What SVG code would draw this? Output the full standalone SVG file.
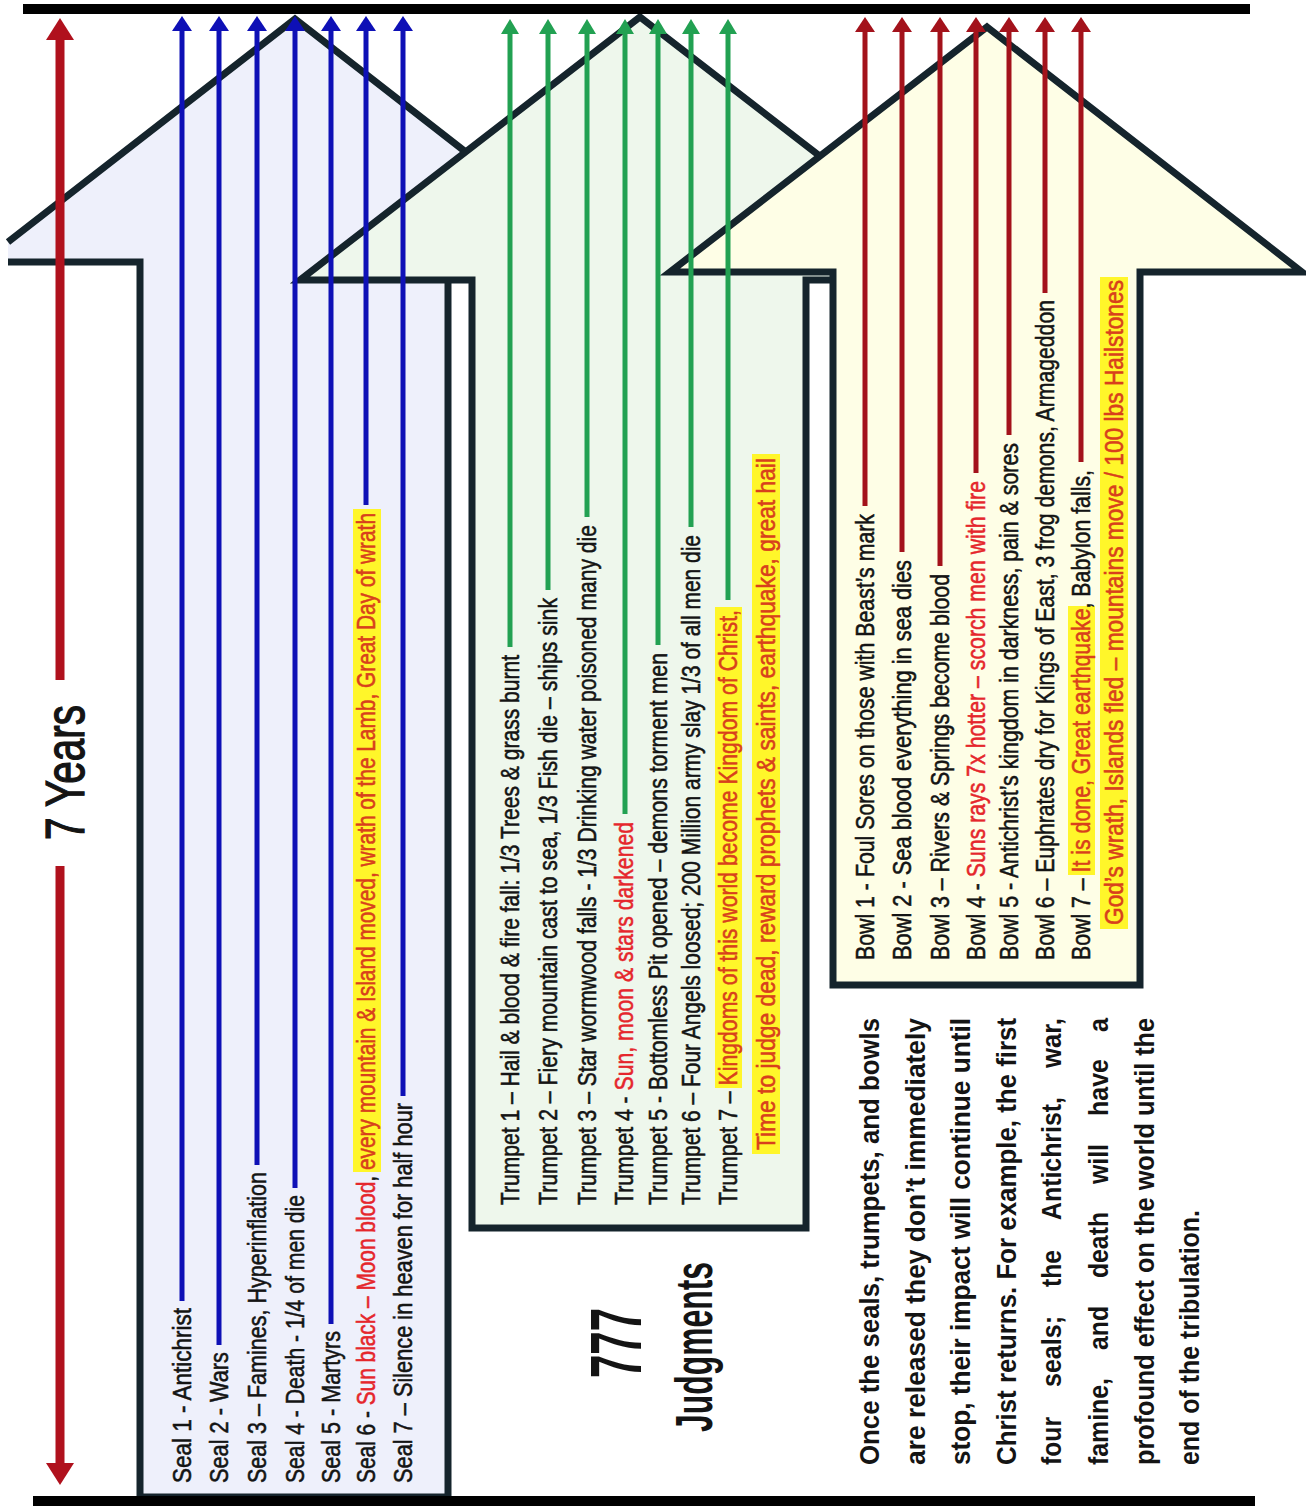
<svg xmlns="http://www.w3.org/2000/svg" width="1306" height="1511" viewBox="0 0 1306 1511">
<style>
.arrowFill{stroke:none}
.outline{fill:none;stroke:#15242c;stroke-width:7;stroke-linejoin:miter;stroke-miterlimit:10}
.lbl{font-family:"Liberation Sans",Arial,sans-serif;font-size:26px;fill:#141414;stroke:#141414;stroke-width:0.55}
.red{fill:#e5262c;stroke:#e5262c}
.hl{fill:#d8401c;stroke:#d8401c}
.hlbox{fill:#fff62a}
.para{font-family:"Liberation Sans",Arial,sans-serif;font-size:28px;font-weight:bold;fill:#141414}
.big{font-family:"Liberation Sans",Arial,sans-serif;font-weight:bold;fill:#141414}
.years{font-family:"Liberation Sans",Arial,sans-serif;font-size:56px;fill:#141414;stroke:#141414;stroke-width:1.3}
.blue{stroke:#0e10b6;stroke-width:5;marker-end:url(#mBlue)}
.green{stroke:#22a152;stroke-width:5;marker-end:url(#mGreen)}
.dred{stroke:#a3121b;stroke-width:5;marker-end:url(#mRed)}
.yr{stroke:#b0111d;stroke-width:9;marker-end:url(#mYears)}
.bar{fill:#000}
</style>
<defs>
<marker id="mBlue" markerUnits="userSpaceOnUse" markerWidth="16" markerHeight="20" refX="3" refY="10" orient="auto" viewBox="0 0 16 20"><path d="M0,0 L15,10 L0,20 Z" fill="#0e10b6"/></marker>
<marker id="mGreen" markerUnits="userSpaceOnUse" markerWidth="16" markerHeight="20" refX="3" refY="10" orient="auto" viewBox="0 0 16 20"><path d="M0,1 L15,10 L0,19 Z" fill="#22a152"/></marker>
<marker id="mRed" markerUnits="userSpaceOnUse" markerWidth="16" markerHeight="20" refX="3" refY="10" orient="auto" viewBox="0 0 16 20"><path d="M0,0 L15,10 L0,20 Z" fill="#a3121b"/></marker>
<marker id="mYears" markerUnits="userSpaceOnUse" markerWidth="22" markerHeight="28" refX="4" refY="14" orient="auto" viewBox="0 0 22 28"><path d="M0,0 L22,14 L0,28 Z" fill="#b0111d"/></marker>
</defs>
<rect width="1306" height="1511" fill="#ffffff"/>

<!-- Seals arrow -->
<g id="seals">
<polygon class="arrowFill" fill="#eef0fb" points="8,242 295,19 607,262 448,262 448,1497 140,1497 140,262 8,262"/>
<polyline class="outline" points="8,242 295,19 607,262 448,262 448,1497 140,1497 140,262 8,262"/>
</g>

<!-- Trumpets arrow -->
<g id="trumpets">
<polygon class="arrowFill" fill="#eef7ec" points="640,17 980,280 806,280 806,1228 472,1228 472,280 300,280"/>
<polygon class="outline" points="640,17 980,280 806,280 806,1228 472,1228 472,280 300,280"/>
</g>

<!-- Bowls arrow -->
<g id="bowls">
<polygon class="arrowFill" fill="#fefee6" points="987,27 1302,272 1140,272 1140,985 833,985 833,272 670,272"/>
<polygon class="outline" points="987,27 1302,272 1140,272 1140,985 833,985 833,272 670,272"/>
</g>

<!-- Seal labels -->
<g id="seal-labels">
<rect class="hlbox" x="353" y="509" width="28" height="663"/>
<text class="lbl" transform="translate(191,1483) rotate(-90)" textLength="175" lengthAdjust="spacingAndGlyphs">Seal 1 - Antichrist</text>
<text class="lbl" transform="translate(228,1483) rotate(-90)" textLength="131" lengthAdjust="spacingAndGlyphs">Seal 2 - Wars</text>
<text class="lbl" transform="translate(266,1483) rotate(-90)" textLength="311" lengthAdjust="spacingAndGlyphs">Seal 3 – Famines, Hyperinflation</text>
<text class="lbl" transform="translate(304,1483) rotate(-90)" textLength="288" lengthAdjust="spacingAndGlyphs">Seal 4 - Death - 1/4 of men die</text>
<text class="lbl" transform="translate(340,1483) rotate(-90)" textLength="152" lengthAdjust="spacingAndGlyphs">Seal 5 - Martyrs</text>
<text class="lbl" transform="translate(375,1483) rotate(-90)" textLength="970" lengthAdjust="spacingAndGlyphs">Seal 6 - <tspan class="red">Sun black – Moon blood</tspan>, <tspan class="hl">every mountain &amp; Island moved, wrath of the Lamb, Great Day of wrath</tspan></text>
<text class="lbl" transform="translate(412,1483) rotate(-90)" textLength="380" lengthAdjust="spacingAndGlyphs">Seal 7 – Silence in heaven for half hour</text>
</g>

<!-- Trumpet labels -->
<g id="trumpet-labels">
<rect class="hlbox" x="715" y="607" width="27" height="481"/>
<rect class="hlbox" x="752" y="454" width="28" height="700"/>
<text class="lbl" transform="translate(519,1205) rotate(-90)" textLength="550" lengthAdjust="spacingAndGlyphs">Trumpet 1 – Hail &amp; blood &amp; fire fall: 1/3 Trees &amp; grass burnt</text>
<text class="lbl" transform="translate(557,1205) rotate(-90)" textLength="607" lengthAdjust="spacingAndGlyphs">Trumpet 2 – Fiery mountain cast to sea, 1/3 Fish die – ships sink</text>
<text class="lbl" transform="translate(596,1205) rotate(-90)" textLength="680" lengthAdjust="spacingAndGlyphs">Trumpet 3 – Star wormwood falls - 1/3 Drinking water poisoned many die</text>
<text class="lbl" transform="translate(633,1205) rotate(-90)" textLength="383" lengthAdjust="spacingAndGlyphs">Trumpet 4 - <tspan class="red">Sun, moon &amp; stars darkened</tspan></text>
<text class="lbl" transform="translate(667,1205) rotate(-90)" textLength="552" lengthAdjust="spacingAndGlyphs">Trumpet 5 - Bottomless Pit opened – demons torment men</text>
<text class="lbl" transform="translate(700,1205) rotate(-90)" textLength="670" lengthAdjust="spacingAndGlyphs">Trumpet 6 – Four Angels loosed; 200 Million army slay 1/3 of all men die</text>
<text class="lbl" transform="translate(737,1205) rotate(-90)" textLength="595" lengthAdjust="spacingAndGlyphs">Trumpet 7 – <tspan class="hl">Kingdoms of this world become Kingdom of Christ,</tspan></text>
<text class="lbl hl" transform="translate(775,1150) rotate(-90)" textLength="692" lengthAdjust="spacingAndGlyphs">Time to judge dead, reward prophets &amp; saints, earthquake, great hail</text>
</g>

<!-- Bowl labels -->
<g id="bowl-labels">
<rect class="hlbox" x="1068" y="606" width="27" height="269"/>
<rect class="hlbox" x="1100" y="277" width="28" height="652"/>
<text class="lbl" transform="translate(874,960) rotate(-90)" textLength="446" lengthAdjust="spacingAndGlyphs">Bowl 1 - Foul Sores on those with Beast’s mark</text>
<text class="lbl" transform="translate(911,960) rotate(-90)" textLength="400" lengthAdjust="spacingAndGlyphs">Bowl 2 - Sea blood  everything in sea dies</text>
<text class="lbl" transform="translate(949,960) rotate(-90)" textLength="386" lengthAdjust="spacingAndGlyphs">Bowl 3 – Rivers &amp; Springs become blood</text>
<text class="lbl" transform="translate(985,960) rotate(-90)" textLength="479" lengthAdjust="spacingAndGlyphs">Bowl 4 - <tspan class="red">Suns rays 7x hotter – scorch men with fire</tspan></text>
<text class="lbl" transform="translate(1018,960) rotate(-90)" textLength="517" lengthAdjust="spacingAndGlyphs">Bowl 5 - Antichrist’s kingdom in darkness, pain &amp; sores</text>
<text class="lbl" transform="translate(1054,960) rotate(-90)" textLength="660" lengthAdjust="spacingAndGlyphs">Bowl 6 – Euphrates dry for Kings of East, 3 frog demons, Armageddon</text>
<text class="lbl" transform="translate(1090,960) rotate(-90)" textLength="490" lengthAdjust="spacingAndGlyphs">Bowl 7 – <tspan class="hl">It is done, Great earthquake</tspan>, Babylon falls,</text>
<text class="lbl hl" transform="translate(1123,925) rotate(-90)" textLength="645" lengthAdjust="spacingAndGlyphs">God’s wrath, Islands fled – mountains move / 100 lbs Hailstones</text>
</g>

<!-- Title -->
<g id="title">
<text class="big" font-size="72" transform="translate(641,1378) rotate(-90)" textLength="70" lengthAdjust="spacingAndGlyphs">777</text>
<text class="big" font-size="51" transform="translate(712,1432) rotate(-90)" textLength="170" lengthAdjust="spacingAndGlyphs">Judgments</text>
</g>

<!-- Note paragraph -->
<g id="note">
<text class="para" transform="translate(879,1465) rotate(-90)" textLength="447" lengthAdjust="spacingAndGlyphs">Once the seals, trumpets, and bowls</text>
<text class="para" transform="translate(925,1465) rotate(-90)" textLength="447" lengthAdjust="spacingAndGlyphs">are released they don’t immediately</text>
<text class="para" transform="translate(970,1465) rotate(-90)" textLength="447" lengthAdjust="spacingAndGlyphs">stop, their impact will continue until</text>
<text class="para" transform="translate(1016,1465) rotate(-90)" textLength="447" lengthAdjust="spacingAndGlyphs">Christ returns. For example, the first</text>
<text class="para" transform="translate(1061,1465) rotate(-90)" textLength="48" lengthAdjust="spacingAndGlyphs">four</text>
<text class="para" transform="translate(1061,1387) rotate(-90)" textLength="71" lengthAdjust="spacingAndGlyphs">seals;</text>
<text class="para" transform="translate(1061,1287) rotate(-90)" textLength="37" lengthAdjust="spacingAndGlyphs">the</text>
<text class="para" transform="translate(1061,1220) rotate(-90)" textLength="123" lengthAdjust="spacingAndGlyphs">Antichrist,</text>
<text class="para" transform="translate(1061,1068) rotate(-90)" textLength="50" lengthAdjust="spacingAndGlyphs">war,</text>
<text class="para" transform="translate(1108,1465) rotate(-90)" textLength="87" lengthAdjust="spacingAndGlyphs">famine,</text>
<text class="para" transform="translate(1108,1350) rotate(-90)" textLength="44" lengthAdjust="spacingAndGlyphs">and</text>
<text class="para" transform="translate(1108,1278) rotate(-90)" textLength="66" lengthAdjust="spacingAndGlyphs">death</text>
<text class="para" transform="translate(1108,1184) rotate(-90)" textLength="40" lengthAdjust="spacingAndGlyphs">will</text>
<text class="para" transform="translate(1108,1116) rotate(-90)" textLength="57" lengthAdjust="spacingAndGlyphs">have</text>
<text class="para" transform="translate(1108,1032) rotate(-90)" textLength="14" lengthAdjust="spacingAndGlyphs">a</text>
<text class="para" transform="translate(1154,1465) rotate(-90)" textLength="447" lengthAdjust="spacingAndGlyphs">profound effect on the world until the</text>
<text class="para" transform="translate(1199,1465) rotate(-90)" textLength="255" lengthAdjust="spacingAndGlyphs">end of the tribulation.</text>
</g>

<!-- 7 Years span -->
<g id="seven-years">
<text class="years" transform="translate(84,840) rotate(-90)" textLength="135" lengthAdjust="spacingAndGlyphs">7 Years</text>
</g>

<!-- Connectors -->
<g id="connectors">
<line class="yr" x1="60" y1="680" x2="60" y2="36"/>
<line class="yr" x1="60" y1="866" x2="60" y2="1467"/>
<line class="blue" x1="182" y1="1301" x2="182" y2="28"/>
<line class="blue" x1="219" y1="1345" x2="219" y2="28"/>
<line class="blue" x1="257" y1="1165" x2="257" y2="28"/>
<line class="blue" x1="295" y1="1188" x2="295" y2="28"/>
<line class="blue" x1="331" y1="1324" x2="331" y2="28"/>
<line class="blue" x1="366" y1="505" x2="366" y2="28"/>
<line class="blue" x1="403" y1="1096" x2="403" y2="28"/>
<line class="green" x1="510" y1="647" x2="510" y2="31"/>
<line class="green" x1="548" y1="590" x2="548" y2="31"/>
<line class="green" x1="587" y1="517" x2="587" y2="31"/>
<line class="green" x1="625" y1="814" x2="625" y2="31"/>
<line class="green" x1="658" y1="645" x2="658" y2="31"/>
<line class="green" x1="691" y1="527" x2="691" y2="31"/>
<line class="green" x1="728" y1="600" x2="728" y2="31"/>
<line class="dred" x1="865" y1="506" x2="865" y2="29"/>
<line class="dred" x1="902" y1="552" x2="902" y2="29"/>
<line class="dred" x1="940" y1="566" x2="940" y2="29"/>
<line class="dred" x1="976" y1="473" x2="976" y2="29"/>
<line class="dred" x1="1009" y1="435" x2="1009" y2="29"/>
<line class="dred" x1="1045" y1="293" x2="1045" y2="29"/>
<line class="dred" x1="1081" y1="462" x2="1081" y2="29"/>
<rect class="bar" x="23" y="4" width="1227" height="10"/>
<rect class="bar" x="33" y="1496" width="1222" height="10"/>
</g>
</svg>
